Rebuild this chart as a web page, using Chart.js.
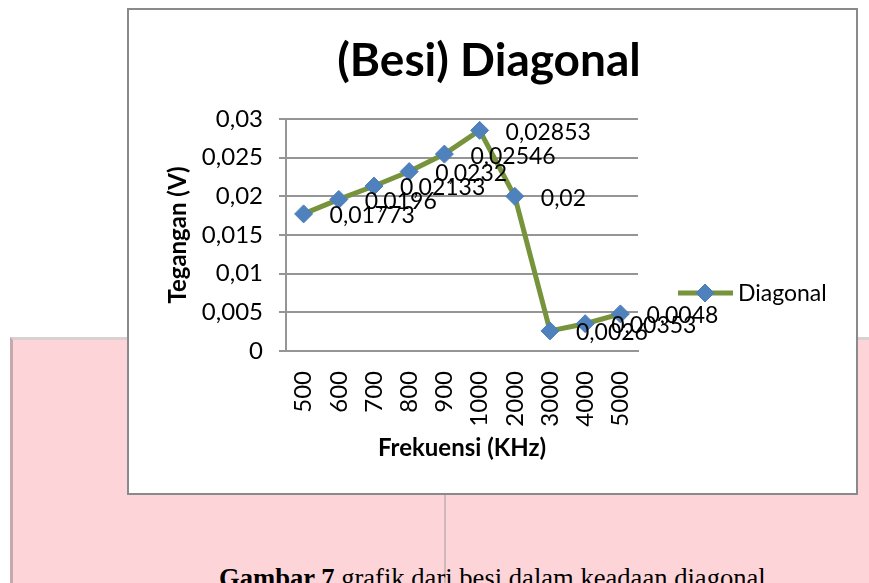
<!DOCTYPE html>
<html><head><meta charset="utf-8">
<script src="https://cdn.jsdelivr.net/npm/chart.js@4.4.1/dist/chart.umd.min.js"></script>
<style>
html,body{margin:0;padding:0;background:#fff;width:869px;height:583px;overflow:hidden;position:relative;font-family:Lato,sans-serif}
#pink{position:absolute;left:10px;top:337px;width:859px;height:246px;background:#fdd5d8;border-left:3px solid #c6a9ac;border-top:3px solid #d9d0d1;box-sizing:border-box}
#vline{position:absolute;left:444px;top:495px;width:2px;height:88px;background:#cdb9bb}
#caption{position:absolute;left:219px;top:565px;font-family:'Liberation Serif',serif;font-size:26.6px;line-height:26px;white-space:nowrap;color:#000}
#box{position:absolute;left:127px;top:8px;width:731px;height:487px;border:2px solid #8a8a8a;box-sizing:border-box;background:#fff}
#box canvas{display:block}
</style></head>
<body>
<div id="pink"></div>
<div id="vline"></div>
<div id="caption"><b>Gambar 7</b> grafik dari besi dalam keadaan diagonal</div>
<div id="box"><canvas id="c" width="727" height="483"></canvas></div>
<script>
const categories = ['500','600','700','800','900','1000','2000','3000','4000','5000'];
const diagonalValues = [0.01773, 0.0196, 0.02133, 0.0232, 0.02546, 0.02853, 0.02, 0.0026, 0.00353, 0.0048];
const seriesName = 'Diagonal';
const chartTitle = '(Besi) Diagonal';
const xTitle = 'Frekuensi (KHz)';
const yTitle = 'Tegangan (V)';
const yMin = 0, yMax = 0.03, yStep = 0.005;

const LINE = '#77933c', MARK = '#4f81bd', GRID = '#959595';
const FONT = 'Lato';
function fmt(v){ return String(Number(v.toFixed(5))).replace('.', ','); }

function diamond(ctx, x, y, r){
  ctx.beginPath(); ctx.moveTo(x, y - r); ctx.lineTo(x + r, y); ctx.lineTo(x, y + r); ctx.lineTo(x - r, y); ctx.closePath();
  ctx.fillStyle = MARK; ctx.fill(); ctx.strokeStyle = '#4a7ebb'; ctx.lineWidth = 1; ctx.stroke();
}

const overlay = {
  id: 'overlay',
  afterDraw(chart){
    const ctx = chart.ctx;
    ctx.save();
    ctx.font = 'bold 46px ' + FONT; ctx.fillStyle = '#000'; ctx.textAlign = 'center'; ctx.textBaseline = 'middle';
    ctx.fillText(chartTitle, 360, 51);
    const meta = chart.getDatasetMeta(0);
    ctx.font = '23px ' + FONT; ctx.textAlign = 'left';
    meta.data.forEach((pt, i) => { ctx.fillText(fmt(diagonalValues[i]), pt.x + 26, pt.y + 2); });
    const ly = 283;
    ctx.strokeStyle = LINE; ctx.lineWidth = 5; ctx.beginPath(); ctx.moveTo(549, ly); ctx.lineTo(604, ly); ctx.stroke();
    diamond(ctx, 576, ly, 9);
    ctx.fillStyle = '#000'; ctx.textAlign = 'left'; ctx.font = '23px ' + FONT;
    ctx.fillText(seriesName, 609, ly + 1);
    ctx.restore();
  }
};

function build(){
new Chart(document.getElementById('c'), {
  type: 'line',
  data: { labels: categories, datasets: [{
    label: seriesName, data: diagonalValues, borderColor: LINE, borderWidth: 5, tension: 0,
    pointStyle: 'rectRot', pointRadius: 9, pointHoverRadius: 9, pointBackgroundColor: MARK,
    pointBorderColor: '#4a7ebb', pointBorderWidth: 1, clip: false, fill: false
  }]},
  options: {
    responsive: false, animation: false, devicePixelRatio: 1,
    layout: { padding: { left: 0, top: 109, right: 218, bottom: 0 } },
    plugins: { legend: { display: false }, tooltip: { enabled: false }, title: { display: false } },
    scales: {
      x: {
        offset: true,
        grid: { display: false },
        border: { display: true, color: GRID, width: 2 },
        ticks: { minRotation: 90, maxRotation: 90, autoSkip: false, padding: 12, color: '#000', font: { family: FONT, size: 24 } },
        title: { display: true, text: xTitle, color: '#000', font: { family: FONT, size: 24, weight: 'bold' }, padding: { top: 0, bottom: 30 } },
        afterFit: s => { s.height = 142; }
      },
      y: {
        min: yMin, max: yMax,
        grid: { color: GRID, lineWidth: 2, tickLength: 7, drawTicks: true },
        border: { display: true, color: GRID, width: 2 },
        ticks: { stepSize: yStep, padding: 16, color: '#000', font: { family: FONT, size: 24 }, callback: v => fmt(v) },
        title: { display: true, text: yTitle, color: '#000', font: { family: FONT, size: 24, weight: 'bold' }, padding: { top: 35, bottom: 0 } },
        afterFit: s => { s.width = 157; }
      }
    }
  },
  plugins: [overlay]
});
}
if (document.fonts && document.fonts.load) {
  Promise.all([document.fonts.load('23px Lato'), document.fonts.load('bold 46px Lato')]).then(build, build);
} else build();
</script>
</body></html>
